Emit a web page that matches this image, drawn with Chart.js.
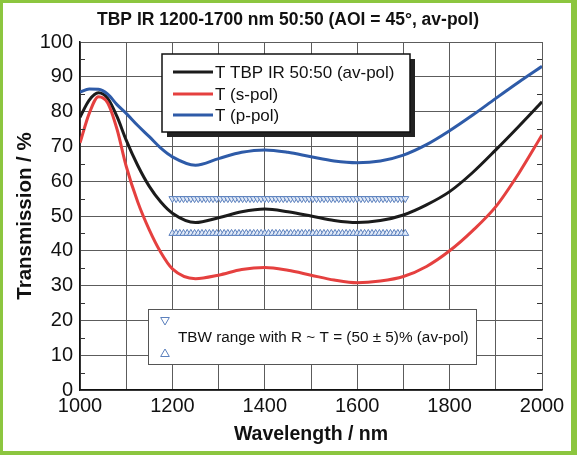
<!DOCTYPE html>
<html>
<head>
<meta charset="utf-8">
<script src="https://cdn.jsdelivr.net/npm/chart.js@4.4.1/dist/chart.umd.min.js"></script>
<style>
  html, body { margin: 0; padding: 0; background: #fff; }
  #wrap { position: relative; width: 577px; height: 455px; }
  #frame {
    position: absolute; left: 0; top: 0; width: 577px; height: 455px;
    box-sizing: border-box; pointer-events: none;
    border-style: solid; border-color: #8cc63f;
    border-width: 3px 6px 4px 3px;
  }
</style>
</head>
<body>
<div id="wrap">
  <canvas id="tbpChart" width="577" height="455"></canvas>
  <div id="frame"></div>
</div>
<script>
// wavelength grid (nm) shared by the three curves
const wavelengths = [1000, 1020, 1040, 1060, 1080, 1100, 1125, 1150, 1175, 1200, 1250, 1300, 1350,
  1400, 1450, 1500, 1550, 1600, 1650, 1700, 1750, 1800, 1850, 1900, 1950, 2000];

const tAvPol = [78.4, 83.3, 85.4, 83.8, 78.6, 71.8, 64.5, 58.5, 54.0, 50.8, 48.1, 49.5, 51.2,
  52.0, 51.2, 50.0, 48.7, 48.1, 48.7, 50.3, 53.2, 57.0, 62.5, 69.0, 75.8, 82.8];

const tSPol = [71.0, 79.5, 84.3, 82.5, 75.0, 64.3, 54.0, 46.0, 39.5, 34.8, 32.0, 33.0, 34.6,
  35.2, 34.4, 33.0, 31.6, 30.8, 31.3, 32.6, 35.5, 40.0, 45.8, 52.7, 62.3, 73.3];

const tPPol = [85.6, 86.5, 86.4, 85.0, 82.0, 79.5, 76.0, 72.8, 69.5, 67.0, 64.6, 66.5, 68.3,
  69.0, 68.3, 67.0, 65.8, 65.3, 65.8, 67.5, 70.5, 74.5, 79.0, 83.8, 88.5, 93.0];

// TBW band markers, R ~ T = (50 +- 5)%
const bandWavelengths = [1200, 1208, 1216, 1224, 1232, 1240, 1248, 1256, 1264, 1272, 1280, 1288,
  1296, 1304, 1312, 1320, 1328, 1336, 1344, 1352, 1360, 1368, 1376, 1384, 1392, 1400, 1408, 1416,
  1424, 1432, 1440, 1448, 1456, 1464, 1472, 1480, 1488, 1496, 1504, 1512, 1520, 1528, 1536, 1544,
  1552, 1560, 1568, 1576, 1584, 1592, 1600, 1608, 1616, 1624, 1632, 1640, 1648, 1656, 1664, 1672,
  1680, 1688, 1696, 1704];
const bandUpper = 55;
const bandLower = 45;

const xTickLabels = [1000, 1200, 1400, 1600, 1800, 2000];
const yMinorTicks = [5, 15, 25, 35, 45, 55, 65, 75, 85, 95];

const legendLabels = ['T TBP IR 50:50 (av-pol)', 'T (s-pol)', 'T (p-pol)'];
const bandLabel = 'TBW range with R ~ T = (50 \u00b1 5)% (av-pol)';
const titleText = 'TBP IR 1200-1700 nm 50:50 (AOI = 45\u00b0, av-pol)';

const black = '#1b1b1b';
const red = '#e5403f';
const blue = '#2e5ba8';
const markerColor = '#5b80bd';
const fontFamily = '"Liberation Sans", Arial, sans-serif';

const toPoints = (xs, ys) => xs.map((x, i) => ({ x: x, y: ys[i] }));

const curveStyle = {
    borderWidth: 3,
    pointRadius: 0,
    cubicInterpolationMode: 'monotone',
    fill: false
};

const markerStyle = {
    showLine: false,
    pointStyle: 'triangle',
    pointRadius: 4,
    borderWidth: 1,
    borderColor: markerColor,
    pointBorderColor: markerColor,
    pointBackgroundColor: 'rgba(225,234,248,0.9)'
};

// title, legends and minor ticks drawn on top of the plot
const decorPlugin = {
    id: 'decor',
    afterDraw(chart) {
        const ctx = chart.ctx;
        const y = chart.scales.y;
        const area = chart.chartArea;
        ctx.save();

        // minor ticks pointing inward on left and right
        ctx.strokeStyle = '#333';
        ctx.lineWidth = 1;
        yMinorTicks.forEach(v => {
            const py = Math.round(y.getPixelForValue(v)) + 0.5;
            ctx.beginPath();
            ctx.moveTo(area.left, py); ctx.lineTo(area.left + 5, py);
            ctx.moveTo(area.right, py); ctx.lineTo(area.right - 5, py);
            ctx.stroke();
        });

        // title
        ctx.fillStyle = '#111';
        ctx.font = 'bold 17.5px ' + fontFamily;
        ctx.textAlign = 'center';
        ctx.textBaseline = 'middle';
        ctx.fillText(titleText, 288, 20);

        // legend 1 with shadow
        const lx = 162, ly = 54, lw = 248, lh = 78;
        ctx.fillStyle = '#222';
        ctx.fillRect(lx + 5, ly + 5, lw, lh);
        ctx.fillStyle = '#fff';
        ctx.fillRect(lx, ly, lw, lh);
        ctx.strokeStyle = '#111';
        ctx.lineWidth = 1.5;
        ctx.strokeRect(lx, ly, lw, lh);

        const colors = [black, red, blue];
        const rows = [72, 94, 115];
        ctx.font = '17px ' + fontFamily;
        ctx.textAlign = 'left';
        legendLabels.forEach((label, i) => {
            ctx.strokeStyle = colors[i];
            ctx.lineWidth = 3;
            ctx.beginPath();
            ctx.moveTo(173, rows[i]);
            ctx.lineTo(213, rows[i]);
            ctx.stroke();
            ctx.fillStyle = '#111';
            ctx.fillText(label, 215, rows[i] + 1);
        });

        // legend 2 for the band markers
        const bx = 148, by = 309, bw = 328, bh = 55;
        ctx.fillStyle = '#fff';
        ctx.fillRect(bx, by, bw, bh);
        ctx.strokeStyle = '#555';
        ctx.lineWidth = 1;
        ctx.strokeRect(bx + 0.5, by + 0.5, bw, bh);

        const ptOpts = { pointStyle: 'triangle', radius: 5, borderWidth: 1, rotation: 180 };
        ctx.strokeStyle = markerColor;
        ctx.fillStyle = '#fff';
        ctx.lineWidth = 1;
        Chart.helpers.drawPoint(ctx, ptOpts, 165, 320);
        ptOpts.rotation = 0;
        Chart.helpers.drawPoint(ctx, ptOpts, 165, 354);

        ctx.fillStyle = '#111';
        ctx.font = '15.3px ' + fontFamily;
        ctx.textAlign = 'left';
        ctx.textBaseline = 'middle';
        ctx.fillText(bandLabel, 178, 338);

        ctx.restore();
    }
};

const tbpChart = new Chart(document.getElementById('tbpChart').getContext('2d'), {
    type: 'line',
    data: {
        datasets: [
            Object.assign({ label: legendLabels[2], data: toPoints(wavelengths, tPPol), borderColor: blue }, curveStyle),
            Object.assign({ label: legendLabels[1], data: toPoints(wavelengths, tSPol), borderColor: red }, curveStyle),
            Object.assign({ label: legendLabels[0], data: toPoints(wavelengths, tAvPol), borderColor: black }, curveStyle),
            Object.assign({ label: 'upper', data: bandWavelengths.map(w => ({ x: w, y: bandUpper })), rotation: 180 }, markerStyle),
            Object.assign({ label: 'lower', data: bandWavelengths.map(w => ({ x: w, y: bandLower })), rotation: 0 }, markerStyle)
        ]
    },
    options: {
        responsive: false,
        animation: false,
        layout: { padding: { top: 42, right: 35, bottom: 0, left: 0 } },
        plugins: {
            legend: { display: false },
            title: { display: false },
            tooltip: { enabled: false }
        },
        scales: {
            x: {
                type: 'linear',
                min: 1000,
                max: 2000,
                afterFit(scale) { scale.height = 65; },
                grid: { color: '#5c5c5c', lineWidth: 1, drawTicks: false },
                border: { color: '#111', width: 1.5 },
                ticks: {
                    stepSize: 100,
                    autoSkip: false,
                    maxRotation: 0,
                    color: '#111',
                    padding: 4,
                    font: { family: fontFamily, size: 20 },
                    callback: v => (xTickLabels.includes(v) ? String(v) : '')
                },
                title: {
                    display: true,
                    text: 'Wavelength / nm',
                    color: '#111',
                    font: { family: fontFamily, size: 19.5, weight: 'bold' },
                    padding: { top: 0, bottom: 9 }
                }
            },
            y: {
                min: 0,
                max: 100,
                afterFit(scale) { scale.width = 80; },
                grid: { color: '#5c5c5c', lineWidth: 1, drawTicks: false },
                border: { color: '#111', width: 1.5 },
                ticks: { stepSize: 10, color: '#111', padding: 7, font: { family: fontFamily, size: 20 } },
                title: {
                    display: true,
                    text: 'Transmission / %',
                    color: '#111',
                    font: { family: fontFamily, size: 20.5, weight: 'bold' },
                    padding: { top: 13, bottom: 0 }
                }
            }
        }
    },
    plugins: [decorPlugin]
});
</script>
</body>
</html>
